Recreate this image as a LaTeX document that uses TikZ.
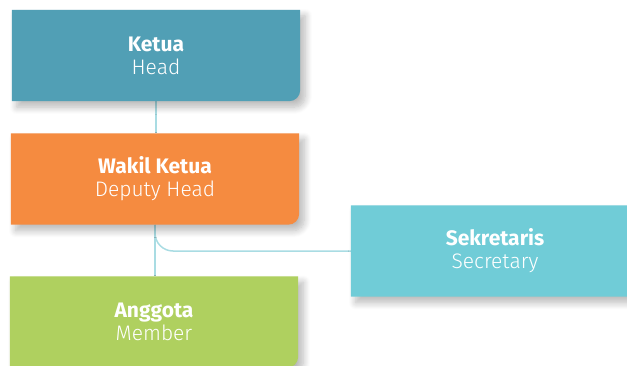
\documentclass[tikz,border=0pt]{standalone}
\usepackage{fontspec}
\setmainfont{Fira Sans}
\newfontfamily\lightfont{Fira Sans Light}
\usetikzlibrary{backgrounds,shadows.blur}

\definecolor{headblue}{HTML}{519FB5}
\definecolor{deputyorange}{HTML}{F58B40}
\definecolor{secretarycyan}{HTML}{70CCD7}
\definecolor{membergreen}{HTML}{AFD05F}
\definecolor{linkblue}{HTML}{A9DCE3}

% two-line label: Indonesian title in bold, English below in light
\newcommand{\rolelabel}[2]{{\bfseries #1}\\{\lightfont #2}}

\begin{document}
\begin{tikzpicture}[
        x=1pt, y=1pt,
        unit/.style ={minimum width=288pt, minimum height=91pt, inner sep=0pt,
            align=center, text=white, font=\fontsize{21}{23}\selectfont},
        link/.style ={draw=linkblue, line width=1.5pt},
        unitshadow/.style ={blur shadow={shadow xshift=5pt, shadow yshift=-6pt,
            shadow blur steps=10, shadow blur radius=7pt, shadow opacity=28}},
    ]
    \useasboundingbox (0,0) rectangle (627,365);

    \node[unit] (head) at (156,309.5) {\rolelabel{Ketua}{Head}};
    \node[unit] (deputy) at (155,186) {\rolelabel{Wakil Ketua}{Deputy Head}};
    \node[unit] (secretary) at (495,114) {\rolelabel{Sekretaris}{Secretary}};
    \node[unit] (member) at (154,43) {\rolelabel{Anggota}{Member}};

    % boxes go behind the text, corner rounded at bottom right only
    \begin{scope}[on background layer]
        \path[link] (head.south) -- (head.south |- deputy.north);
        \path[link] (deputy.south) -- (deputy.south |- member.north);
        \path[link, rounded corners=18pt] (deputy.south) |- (secretary.west);
        \foreach \n/\c in {head/headblue, deputy/deputyorange, secretary/secretarycyan, member/membergreen}
            \fill[\c, unitshadow] (\n.north west) -- (\n.north east)
                -- ([yshift=11pt]\n.south east) arc[start angle=0, end angle=-90, radius=11pt]
                -- (\n.south west) -- cycle;
    \end{scope}

\end{tikzpicture}
\end{document}
